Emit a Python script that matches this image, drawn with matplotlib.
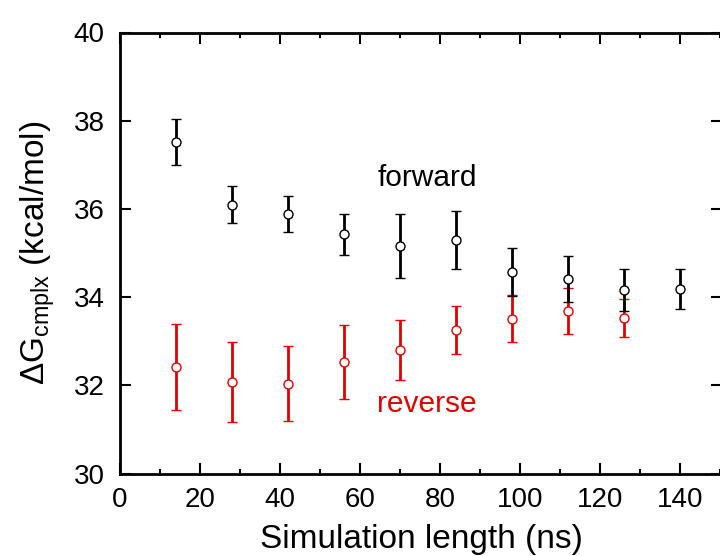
import matplotlib
matplotlib.use("Agg")
import matplotlib.pyplot as plt
from matplotlib.ticker import MultipleLocator

plt.rcParams['font.family'] = ['Liberation Sans', 'DejaVu Sans']
plt.rcParams['mathtext.fontset'] = 'custom'
plt.rcParams['mathtext.rm'] = 'Liberation Sans'

# Data
fwd_x = [14, 28, 42, 56, 70, 84, 98, 112, 126, 140]
fwd_y = [37.51, 36.09, 35.88, 35.42, 35.16, 35.29, 34.57, 34.41, 34.16, 34.18]
fwd_err = [0.52, 0.42, 0.41, 0.47, 0.72, 0.66, 0.54, 0.53, 0.48, 0.45]

rev_x = [14, 28, 42, 56, 70, 84, 98, 112, 126]
rev_y = [32.41, 32.08, 32.04, 32.53, 32.79, 33.25, 33.51, 33.69, 33.53]
rev_err = [0.97, 0.91, 0.84, 0.84, 0.68, 0.55, 0.53, 0.52, 0.43]

red = '#e00000'

fig = plt.figure(figsize=(7.2, 5.56), dpi=100)
ax = fig.add_axes([120/720, 1 - 473.5/556, 602/720, (473.5 - 32.5)/556])

ax.errorbar(rev_x, rev_y, yerr=rev_err, fmt='o', color=red, ecolor=red,
            mfc='white', mec=red, ms=6.5, mew=1.0, elinewidth=2, capsize=3.3,
            capthick=2, zorder=2)
ax.errorbar(fwd_x, fwd_y, yerr=fwd_err, fmt='o', color='black', ecolor='black',
            mfc='white', mec='black', ms=6.5, mew=1.0, elinewidth=2, capsize=3.3,
            capthick=2, zorder=3)

ax.text(64.3, 36.7, 'forward', fontsize=21.5, color='black', va='center', ha='left')
ax.text(64.3, 31.58, 'reverse', fontsize=21.5, color=red, va='center', ha='left')

ax.set_xlim(0, 150.5)
ax.set_ylim(30, 40)
ax.xaxis.set_major_locator(MultipleLocator(20))
ax.xaxis.set_minor_locator(MultipleLocator(10))
ax.yaxis.set_major_locator(MultipleLocator(2))

ax.tick_params(axis='both', which='major', direction='in', length=7.7, width=1.5,
               labelsize=20)
ax.tick_params(axis='x', which='major', pad=9.5)
ax.tick_params(axis='y', which='major', pad=11)
ax.tick_params(axis='x', which='minor', direction='in', length=3.8, width=1.5)
ax.tick_params(top=True, right=True, which='both')
ax.tick_params(axis='y', which='minor', left=False, right=False)

for s in ax.spines.values():
    s.set_linewidth(2)

ax.set_xlabel('Simulation length (ns)', fontsize=24, labelpad=8)
ax.set_ylabel('ΔG$_\\mathregular{cmplx}$ (kcal/mol)', fontsize=24, labelpad=12)

fig.savefig('out.png', dpi=100)
